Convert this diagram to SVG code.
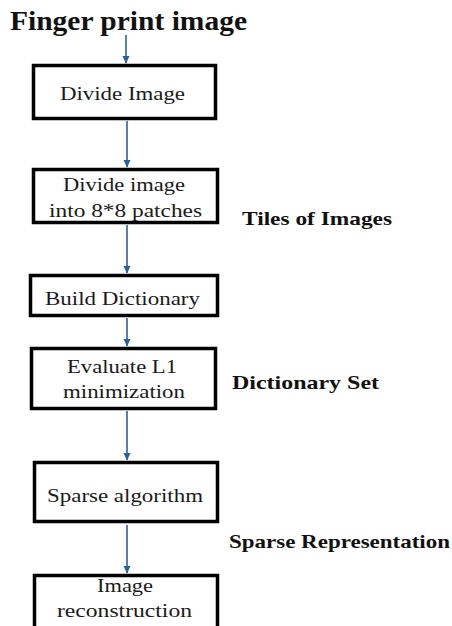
<svg xmlns="http://www.w3.org/2000/svg" width="452" height="626" viewBox="0 0 452 626">
<defs>
<marker id="ah" markerWidth="8" markerHeight="8" refX="7" refY="4" orient="auto" markerUnits="userSpaceOnUse">
<path d="M0,0.5 L7.5,4 L0,7.5 Z" fill="#2c5f9e"/>
</marker>
<style>
.box{fill:#fff;stroke:#000;stroke-width:3.5}
.t{font-family:Liberation Serif,serif;font-size:19px;fill:#1a1a1a;text-anchor:middle}
.lb{font-family:Liberation Serif,serif;font-size:19px;font-weight:bold;fill:#111}
.c{stroke:#2c5f9e;stroke-width:1.6;fill:none;marker-end:url(#ah)}
</style>
</defs>
<rect width="452" height="626" fill="#fff"/>
<text id="title" x="10" y="30" font-family="Liberation Serif, serif" font-size="27" font-weight="bold" fill="#111" textLength="237" lengthAdjust="spacingAndGlyphs">Finger print image</text>
<g id="connectors">
<line class="c" x1="126" y1="35" x2="126" y2="63"/>
<line class="c" x1="127" y1="121" x2="127" y2="167"/>
<line class="c" x1="127" y1="225" x2="127" y2="273"/>
<line class="c" x1="127" y1="318" x2="127" y2="346"/>
<line class="c" x1="127" y1="411" x2="127" y2="460"/>
<line class="c" x1="127" y1="525" x2="127" y2="573"/>
</g>
<g id="n1">
<rect class="box" x="33.5" y="65.5" width="182" height="53"/>
<text class="t" font-family="Liberation Serif, serif" x="122.5" y="100" textLength="125" lengthAdjust="spacingAndGlyphs">Divide Image</text>
</g>
<g id="n2">
<rect class="box" x="33.5" y="169.5" width="184" height="53"/>
<text class="t" font-family="Liberation Serif, serif" x="124" y="191" textLength="122" lengthAdjust="spacingAndGlyphs">Divide image</text>
<text class="t" font-family="Liberation Serif, serif" x="125.5" y="217" textLength="153" lengthAdjust="spacingAndGlyphs">into 8*8 patches</text>
</g>
<g id="n3">
<rect class="box" x="30.5" y="275.5" width="187" height="40"/>
<text class="t" font-family="Liberation Serif, serif" x="122.5" y="305" textLength="155" lengthAdjust="spacingAndGlyphs">Build Dictionary</text>
</g>
<g id="n4">
<rect class="box" x="31.5" y="348.5" width="184" height="60"/>
<text class="t" font-family="Liberation Serif, serif" x="122" y="373" textLength="110" lengthAdjust="spacingAndGlyphs">Evaluate L1</text>
<text class="t" font-family="Liberation Serif, serif" x="124" y="398" textLength="122" lengthAdjust="spacingAndGlyphs">minimization</text>
</g>
<g id="n5">
<rect class="box" x="34.5" y="462.5" width="183" height="59"/>
<text class="t" font-family="Liberation Serif, serif" x="125" y="502" textLength="156" lengthAdjust="spacingAndGlyphs">Sparse algorithm</text>
</g>
<g id="n6">
<rect class="box" x="34.5" y="575.5" width="183" height="60"/>
<text class="t" font-family="Liberation Serif, serif" x="125" y="592" textLength="56" lengthAdjust="spacingAndGlyphs">Image</text>
<text class="t" font-family="Liberation Serif, serif" x="124.5" y="617" textLength="135" lengthAdjust="spacingAndGlyphs">reconstruction</text>
</g>
<g id="labels">
<text class="lb" font-family="Liberation Serif, serif" x="242" y="225" textLength="150" lengthAdjust="spacingAndGlyphs">Tiles of Images</text>
<text class="lb" font-family="Liberation Serif, serif" x="232" y="389" textLength="147" lengthAdjust="spacingAndGlyphs">Dictionary Set</text>
<text class="lb" font-family="Liberation Serif, serif" x="229" y="548" textLength="221" lengthAdjust="spacingAndGlyphs">Sparse Representation</text>
</g>
</svg>
